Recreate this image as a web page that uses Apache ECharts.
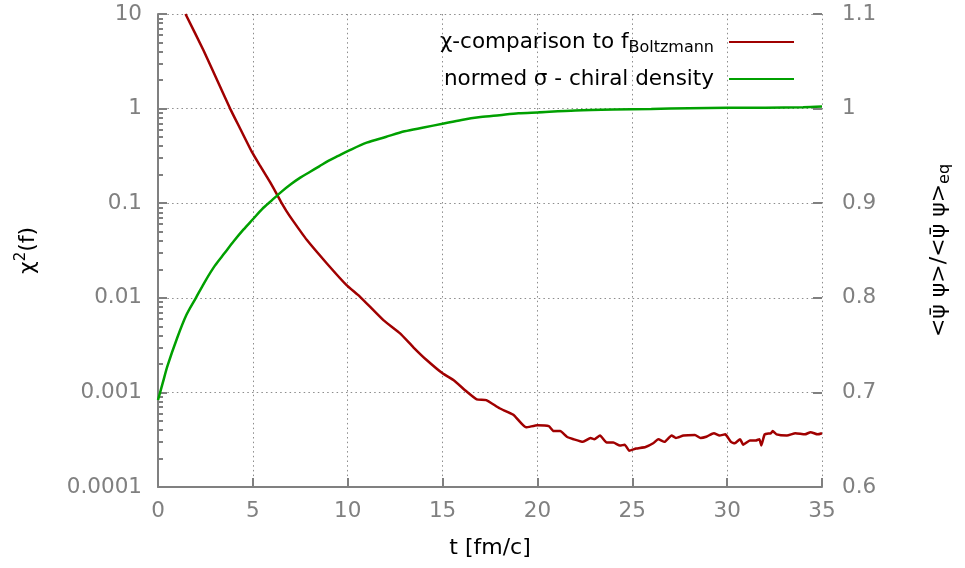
<!DOCTYPE html>
<html>
<head>
<meta charset="utf-8">
<script src="https://cdn.jsdelivr.net/npm/echarts@6/dist/echarts.min.js"></script>
<style>
  html, body { margin: 0; padding: 0; background: #fff; }
  #chart { width: 965px; height: 568px; }
</style>
</head>
<body>
<div id="chart"></div>
<script>
// chi^2 comparison to f_Boltzmann (left, log axis)
const chiT = [1.45, 2.39, 3.27, 3.8, 4.32, 4.94, 5.37, 5.9, 6.26, 6.52, 6.78, 7.13, 7.84, 8.89, 9.94, 10.64,
  11.88, 12.76, 13.46, 14.16, 15.0, 15.57, 16.27, 16.8, 17.3, 18.0, 18.73, 19.4, 20.0, 20.6, 20.85,
  21.2, 21.55, 21.9, 22.4, 22.8, 23.0, 23.3, 23.65, 24.0, 24.35, 24.6, 24.84, 25.2, 25.7, 26.1,
  26.37, 26.7, 27.07, 27.3, 27.7, 28.3, 28.6, 28.9, 29.3, 29.6, 29.9, 30.2, 30.4, 30.68, 30.85,
  31.2, 31.5, 31.7, 31.8, 31.98, 32.3, 32.4, 32.6, 33.15, 33.6, 34.1, 34.4, 34.77, 35]
const chiV = [10, 4.16, 1.71, 1.0, 0.62, 0.351, 0.251, 0.168, 0.125, 0.1, 0.082, 0.0646, 0.041, 0.0232, 0.0136, 0.0103,
  0.0058, 0.0042, 0.003, 0.0022, 0.00159, 0.00135, 0.00102, 0.000845, 0.00083, 0.00068, 0.00058, 0.000427, 0.00045, 0.00044, 0.00039,
  0.00039, 0.00034, 0.00032, 0.0003, 0.00033, 0.00032, 0.00035, 0.000295, 0.000295, 0.000274, 0.00028, 0.000242, 0.000255, 0.000265, 0.00029,
  0.00032, 0.0003, 0.00035, 0.00033, 0.00035, 0.000355, 0.00033, 0.00034, 0.00037, 0.00035, 0.00036, 0.0003, 0.00029, 0.00032, 0.00028,
  0.00031, 0.00031, 0.00032, 0.000275, 0.00036, 0.00037, 0.00039, 0.00036, 0.00035, 0.00037, 0.00036, 0.00038, 0.00036, 0.00037]

// normed sigma - chiral density (right, linear axis)
const sigT = [0, 0.25, 0.5, 1, 1.5, 2, 2.5, 3, 3.5, 4, 4.5, 5, 5.5, 6, 6.5, 7, 7.5, 8, 8.5, 9, 9.5, 10,
  11, 12, 13, 14, 15, 16, 17, 18, 19, 20, 22, 24, 26, 28, 30, 32, 34, 35]
const sigV = [0.692, 0.71, 0.728, 0.757, 0.782, 0.8, 0.818, 0.834, 0.847, 0.86, 0.872, 0.883, 0.894, 0.903, 0.912, 0.92, 0.927, 0.933, 0.939, 0.945, 0.95, 0.955,
  0.964, 0.97, 0.976, 0.98, 0.984, 0.988, 0.991, 0.993, 0.995, 0.996, 0.998, 0.999, 0.9995, 1.0005, 1.0008, 1.001, 1.0015, 1.0022]

// log minor tick values on the left axis (2..9 per decade), in log10 space
const decades = [-4, -3, -2, -1, 0]
const minorMult = [2, 3, 4, 5, 6, 7, 8, 9]
const minorTicks = []
decades.forEach(d => minorMult.forEach(m => minorTicks.push(d + Math.log10(m))))

const gray = '#808080'
const gridLine = { show: true, lineStyle: { color: '#8c8c8c', width: 1, type: [1.5, 3.2] } }
const font = 'DejaVu Sans'
const fs = 21.5

const chart = echarts.init(document.getElementById('chart'))

chart.setOption({
  animation: false,
  backgroundColor: '#fff',
  textStyle: { fontFamily: font },
  grid: { left: 158, right: 143, top: 14, bottom: 81 },
  legend: {
    orient: 'vertical',
    align: 'right',
    right: 165,
    top: 26,
    itemWidth: 65,
    itemHeight: 12,
    itemGap: 12,
    data: ['chi', 'sigma'],
    itemStyle: { opacity: 0 },
    formatter: name => name === 'chi'
      ? '{a|χ-comparison to f}{s|Boltzmann}'
      : '{b|normed σ - chiral density}',
    textStyle: {
      color: '#000',
      fontFamily: font,
      rich: {
        a: { fontSize: fs, lineHeight: 28, fontFamily: font, color: '#000' },
        b: { fontSize: fs, lineHeight: 28, fontFamily: font, color: '#000', padding: [0, 10, 0, 0] },
        s: { fontSize: 16, lineHeight: 16, verticalAlign: 'bottom', fontFamily: font, color: '#000', padding: [0, 10, 0, 0] }
      }
    }
  },
  xAxis: {
    type: 'value',
    min: 0,
    max: 35,
    interval: 5,
    name: 't [fm/c]',
    nameLocation: 'middle',
    nameGap: 50,
    nameTextStyle: { color: '#000', fontSize: 22, fontFamily: font },
    axisLine: { show: true, onZero: false, lineStyle: { color: gray, width: 2 } },
    axisTick: { show: true, inside: true, length: 9, lineStyle: { color: gray, width: 2 } },
    axisLabel: { color: gray, fontSize: fs, margin: 13, fontFamily: font },
    splitLine: gridLine
  },
  yAxis: [
    {
      type: 'log',
      logBase: 10,
      min: 0.0001,
      max: 10,
      position: 'left',
      name: '{a|χ}{s|2}{a|(f)}',
      nameLocation: 'middle',
      nameRotate: 90,
      nameGap: 116,
      nameTextStyle: {
        color: '#000',
        rich: {
          a: { fontSize: 22, lineHeight: 28, fontFamily: font, color: '#000' },
          s: { fontSize: 15, lineHeight: 15, verticalAlign: 'top', fontFamily: font, color: '#000' }
        }
      },
      axisLine: { show: true, onZero: false, lineStyle: { color: gray, width: 2 } },
      axisTick: { show: true, inside: true, length: 9, lineStyle: { color: gray, width: 2 } },
      axisLabel: {
        color: gray, fontSize: fs, margin: 16, fontFamily: font,
        formatter: v => String(+Number(v).toPrecision(1))
      },
      splitLine: gridLine
    },
    {
      type: 'value',
      min: 0.6,
      max: 1.1,
      interval: 0.1,
      position: 'right',
      name: '{a|<ψ̄ ψ>/<ψ̄ ψ>}{s|eq}',
      nameLocation: 'middle',
      nameRotate: 90,
      nameGap: 103,
      nameTextStyle: {
        color: '#000',
        rich: {
          a: { fontSize: 22, lineHeight: 28, fontFamily: font, color: '#000' },
          s: { fontSize: 16, lineHeight: 16, verticalAlign: 'bottom', fontFamily: font, color: '#000' }
        }
      },
      axisLine: { show: false, onZero: false },
      axisTick: { show: true, inside: true, length: 9, lineStyle: { color: gray, width: 2 } },
      axisLabel: { color: gray, fontSize: fs, margin: 20, fontFamily: font },
      splitLine: { show: false }
    },
    {
      // minor log ticks for the left axis
      type: 'value',
      min: -4,
      max: 1,
      position: 'left',
      axisLine: { show: false, onZero: false },
      axisTick: { show: true, inside: true, length: 5, customValues: minorTicks, lineStyle: { color: gray, width: 2 } },
      axisLabel: { show: false },
      splitLine: { show: false }
    }
  ],
  series: [
    {
      name: 'chi',
      type: 'line',
      yAxisIndex: 0,
      showSymbol: false,
      symbol: 'none',
      smooth: 0.15,
      lineStyle: { color: '#a00000', width: 2.5 },
      itemStyle: { color: '#a00000' },
      data: chiT.map((t, i) => [t, chiV[i]])
    },
    {
      name: 'sigma',
      type: 'line',
      yAxisIndex: 1,
      showSymbol: false,
      symbol: 'none',
      smooth: 0.3,
      lineStyle: { color: '#00a000', width: 2.5 },
      itemStyle: { color: '#00a000' },
      data: sigT.map((t, i) => [t, sigV[i]])
    }
  ]
})
</script>
</body>
</html>
